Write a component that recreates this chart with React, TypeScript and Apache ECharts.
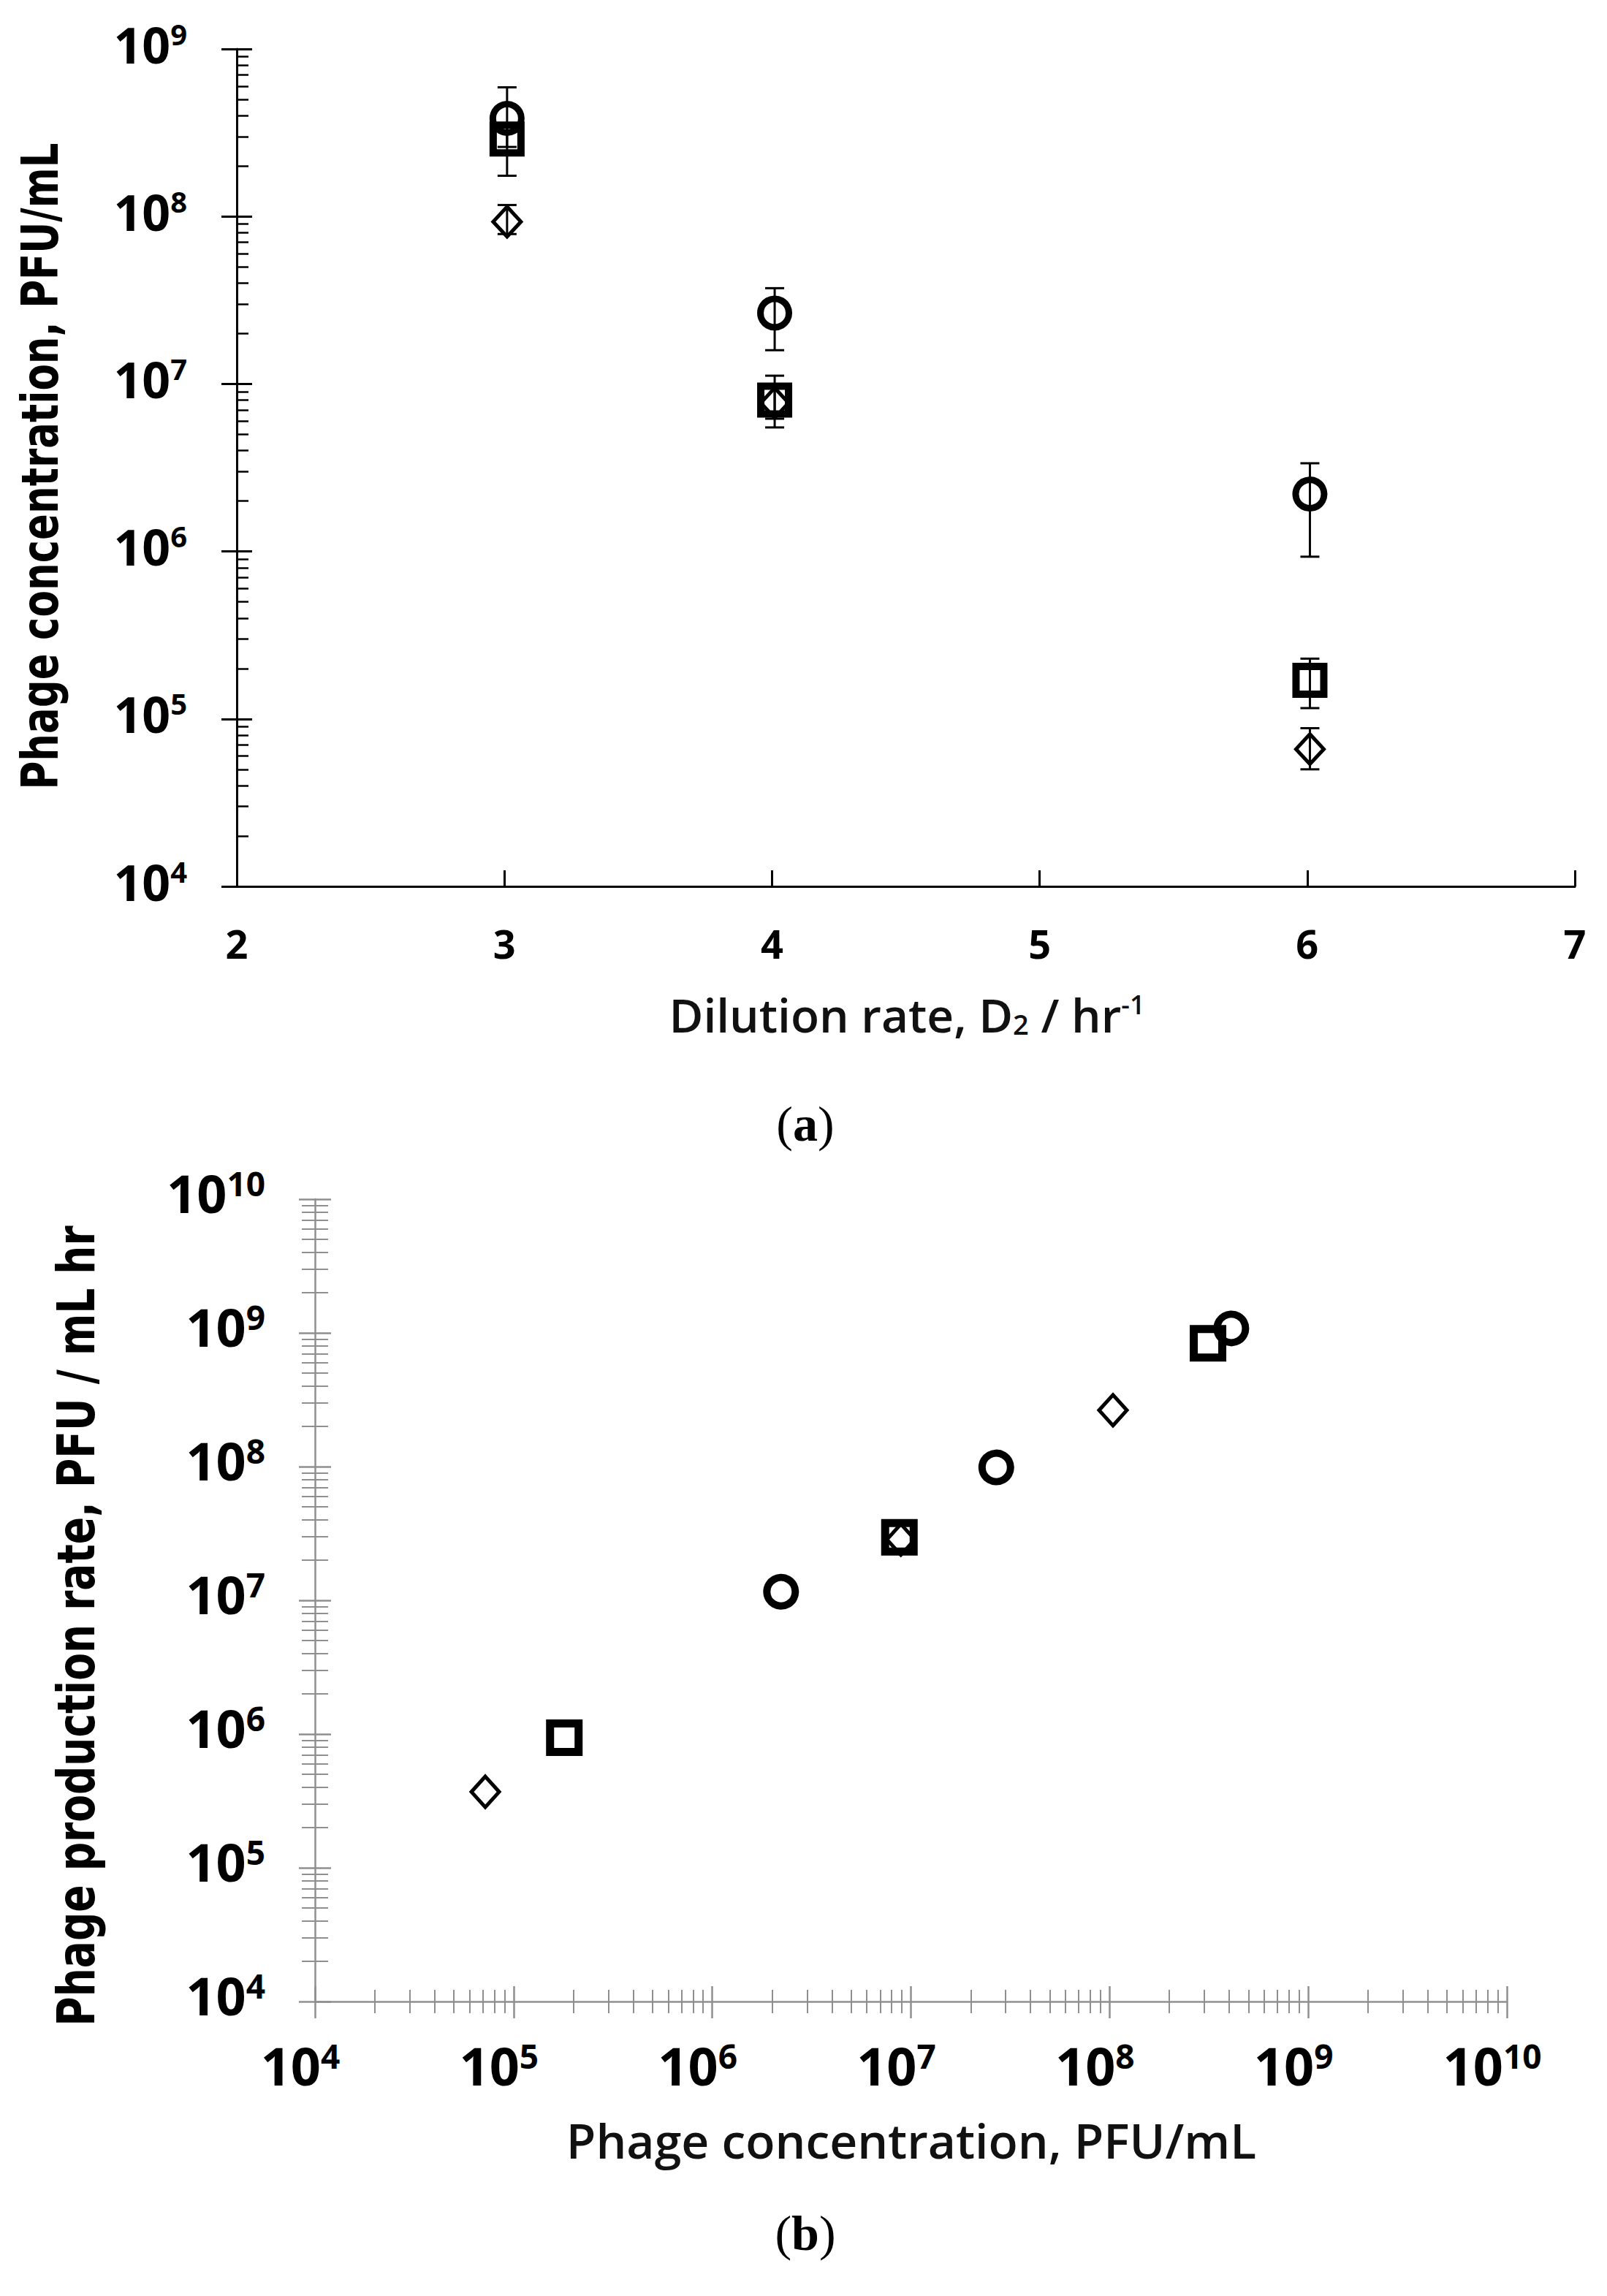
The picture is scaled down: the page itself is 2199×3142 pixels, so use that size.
import React, { useEffect, useRef } from "react";
import * as echarts from "echarts";

// ---------- Data: panel (a) ----------
const dilutionRates = [3.01, 4.01, 6.01];
const circleA = [3.85e8, 2.65e7, 2.2e6];
const circleALow = [2.6e8, 1.59e7, 9.3e5];
const circleAHigh = [5.9e8, 3.73e7, 3.36e6];
const squareA = [2.9e8, 8.0e6, 1.7e5];
const squareALow = [1.75e8, 5.5e6, 1.16e5];
const squareAHigh = [3.6e8, 1.12e7, 2.29e5];
const diamondA = [9.3e7, 7.7e6, 6.6e4];
const diamondALow = [7.85e7, 6.2e6, 5.0e4];
const diamondAHigh = [1.17e8, 9.6e6, 8.8e4];

// ---------- Data: panel (b) ----------
const circleBX = [2.22e6, 2.69e7, 4.1e8];
const circleBY = [1.16e7, 9.86e7, 1.08e9];
const squareBX = [1.8e5, 8.75e6, 3.13e8];
const squareBY = [9.4e5, 2.96e7, 8.36e8];
const diamondBX = [7.2e4, 8.9e6, 1.04e8];
const diamondBY = [3.7e5, 2.85e7, 2.64e8];

// ---------- Axis ranges / labels ----------
const xTickA = { min: 2, max: 7, interval: 1 };
const expRangeAY = [4, 9];
const expRangeB = [4, 10];
const minorMultipliers = [2, 3, 4, 5, 6, 7, 8, 9];

const titleAY = "Phage concentration, PFU/mL";
const titleBY = "Phage production rate, PFU / mL hr";
const titleBX = "Phage concentration, PFU/mL";

function minorValues(e0: number, e1: number) {
  const out: number[] = [];
  for (let e = e0; e < e1; e++) {
    for (const k of minorMultipliers) out.push(k * Math.pow(10, e));
  }
  return out;
}

const LABEL_FONT = "'Open Sans', 'DejaVu Sans', sans-serif";
const BLACK = "#000";
const GRAY = "#8f8f8f";

function powLabel(v: number) {
  const e = Math.round(Math.log10(v));
  return `{b|10}{s|${e}}`;
}

function errorBars(xs: number[], lows: number[], highs: number[], xi: number, yi: number) {
  return {
    type: "custom",
    xAxisIndex: xi,
    yAxisIndex: yi,
    silent: true,
    z: 1,
    data: xs.map((x, i) => [x, lows[i], highs[i]]),
    renderItem: (params: any, api: any) => {
      const x = api.value(0);
      const lo = api.coord([x, api.value(1)]);
      const hi = api.coord([x, api.value(2)]);
      const hw = 13;
      const style = { stroke: BLACK, lineWidth: 3, fill: null };
      return {
        type: "group",
        children: [
          { type: "line", shape: { x1: lo[0], y1: lo[1], x2: hi[0], y2: hi[1] }, style },
          { type: "line", shape: { x1: lo[0] - hw, y1: lo[1], x2: lo[0] + hw, y2: lo[1] }, style },
          { type: "line", shape: { x1: hi[0] - hw, y1: hi[1], x2: hi[0] + hw, y2: hi[1] }, style },
        ],
      };
    },
  };
}

function scatter(data: number[][], symbol: string, size: any, bw: number, xi: number, yi: number, z: number) {
  return {
    type: "scatter",
    xAxisIndex: xi,
    yAxisIndex: yi,
    symbol,
    symbolSize: size,
    z,
    silent: true,
    itemStyle: { color: "rgba(0,0,0,0)", borderColor: BLACK, borderWidth: bw, opacity: 1 },
    data,
  };
}

export default function App() {
  const ref = useRef<HTMLDivElement>(null);

  useEffect(() => {
    if (!ref.current) return;
    const chart = echarts.init(ref.current, undefined, { renderer: "svg" });

    const hidden = { show: false };
    const richA = {
      b: { fontSize: 68, fontWeight: "bold", fontFamily: LABEL_FONT, color: BLACK, lineHeight: 68 },
      s: { fontSize: 40, fontWeight: "bold", fontFamily: LABEL_FONT, color: BLACK, lineHeight: 38, verticalAlign: "top" },
    };
    const richB = {
      b: { fontSize: 72, fontWeight: "bold", fontFamily: LABEL_FONT, color: BLACK, lineHeight: 72 },
      s: { fontSize: 46, fontWeight: "bold", fontFamily: LABEL_FONT, color: BLACK, lineHeight: 42, verticalAlign: "top" },
    };

    const logA = { type: "log", logBase: 10, min: Math.pow(10, expRangeAY[0]), max: Math.pow(10, expRangeAY[1]) };
    const logB = { type: "log", logBase: 10, min: Math.pow(10, expRangeB[0]), max: Math.pow(10, expRangeB[1]) };
    const minorsA = minorValues(expRangeAY[0], expRangeAY[1]);
    const minorsB = minorValues(expRangeB[0], expRangeB[1]);

    const option: any = {
      animation: false,
      backgroundColor: "#fff",
      grid: [
        { left: 324, top: 67, width: 1831, height: 1146, containLabel: false, outerBoundsMode: "none" },
        { left: 431, top: 1641, width: 1631, height: 1098, containLabel: false, outerBoundsMode: "none" },
      ],
      xAxis: [
        {
          gridIndex: 0, type: "value", position: "bottom", ...xTickA,
          axisLine: { show: true, onZero: false, lineStyle: { color: BLACK, width: 3 } },
          axisTick: { show: true, inside: true, length: 22, lineStyle: { color: BLACK, width: 3 } },
          axisLabel: { show: true, margin: 51, fontSize: 54, fontWeight: "bold", fontFamily: LABEL_FONT, color: BLACK, lineHeight: 54 },
          splitLine: hidden,
        },
        {
          gridIndex: 1, position: "bottom", ...logB,
          axisLine: { show: true, onZero: false, lineStyle: { color: GRAY, width: 2.5 } },
          axisTick: { show: true, inside: false, length: 23, lineStyle: { color: GRAY, width: 2.5 } },
          axisLabel: { show: true, margin: 51, formatter: powLabel, rich: richB, padding: [0, 40, 0, 0] },
          splitLine: hidden,
        },
        {
          gridIndex: 1, position: "bottom", ...logB,
          axisLine: { show: false, onZero: false },
          axisTick: { show: true, inside: true, length: 21, lineStyle: { color: GRAY, width: 2.5 } },
          axisLabel: hidden, splitLine: hidden,
        },
        {
          gridIndex: 1, position: "bottom", ...logB,
          axisLine: { show: false, onZero: false },
          axisTick: { show: true, inside: true, length: 16, customValues: minorsB, lineStyle: { color: GRAY, width: 2 } },
          axisLabel: hidden, splitLine: hidden,
        },
        {
          gridIndex: 1, position: "bottom", ...logB,
          axisLine: { show: false, onZero: false },
          axisTick: { show: true, inside: false, length: 16, customValues: minorsB, lineStyle: { color: GRAY, width: 2 } },
          axisLabel: hidden, splitLine: hidden,
        },
      ],
      yAxis: [
        {
          gridIndex: 0, position: "left", ...logA,
          axisLine: { show: true, onZero: false, lineStyle: { color: BLACK, width: 3 } },
          axisTick: { show: true, inside: false, length: 21, lineStyle: { color: BLACK, width: 3 } },
          axisLabel: { show: true, margin: 68, formatter: powLabel, rich: richA, padding: [0, 0, 14, 0] },
          splitLine: hidden,
        },
        {
          gridIndex: 0, position: "left", ...logA,
          axisLine: { show: false, onZero: false },
          axisTick: { show: true, inside: true, length: 21, lineStyle: { color: BLACK, width: 3 } },
          axisLabel: hidden, splitLine: hidden,
        },
        {
          gridIndex: 0, position: "left", ...logA,
          axisLine: { show: false, onZero: false },
          axisTick: { show: true, inside: true, length: 16, customValues: minorsA, lineStyle: { color: BLACK, width: 2.5 } },
          axisLabel: hidden, splitLine: hidden,
        },
        {
          gridIndex: 1, position: "left", ...logB,
          axisLine: { show: true, onZero: false, lineStyle: { color: GRAY, width: 2.5 } },
          axisTick: { show: true, inside: false, length: 22, lineStyle: { color: GRAY, width: 2.5 } },
          axisLabel: { show: true, margin: 68, formatter: powLabel, rich: richB, padding: [0, 0, 18, 0] },
          splitLine: hidden,
        },
        {
          gridIndex: 1, position: "left", ...logB,
          axisLine: { show: false, onZero: false },
          axisTick: { show: true, inside: true, length: 22, lineStyle: { color: GRAY, width: 2.5 } },
          axisLabel: hidden, splitLine: hidden,
        },
        {
          gridIndex: 1, position: "left", ...logB,
          axisLine: { show: false, onZero: false },
          axisTick: { show: true, inside: true, length: 18, customValues: minorsB, lineStyle: { color: GRAY, width: 2 } },
          axisLabel: hidden, splitLine: hidden,
        },
        {
          gridIndex: 1, position: "left", ...logB,
          axisLine: { show: false, onZero: false },
          axisTick: { show: true, inside: false, length: 18, customValues: minorsB, lineStyle: { color: GRAY, width: 2 } },
          axisLabel: hidden, splitLine: hidden,
        },
      ],
      series: [
        errorBars(dilutionRates, circleALow, circleAHigh, 0, 0),
        errorBars(dilutionRates, squareALow, squareAHigh, 0, 0),
        errorBars(dilutionRates, diamondALow, diamondAHigh, 0, 0),
        scatter(dilutionRates.map((x, i) => [x, circleA[i]]), "circle", 39, 9, 0, 0, 3),
        scatter(dilutionRates.map((x, i) => [x, squareA[i]]), "rect", 38, 10, 0, 0, 4),
        scatter(dilutionRates.map((x, i) => [x, diamondA[i]]), "diamond", [38, 41], 5, 0, 0, 5),
        scatter(circleBX.map((x, i) => [x, circleBY[i]]), "circle", 39, 10, 1, 3, 3),
        scatter(squareBX.map((x, i) => [x, squareBY[i]]), "rect", 39, 11, 1, 3, 4),
        scatter(diamondBX.map((x, i) => [x, diamondBY[i]]), "diamond", [38, 42], 5, 1, 3, 5),
      ],
      graphic: [
        {
          type: "text", x: 55, y: 638, rotation: Math.PI / 2, scaleY: 1.3,
          style: { text: titleAY, fontFamily: "'DejaVu Sans', sans-serif", fontWeight: "bold", fontSize: 53, fill: BLACK, align: "center", verticalAlign: "middle" },
        },
        {
          type: "text", x: 1241, y: 1388,
          style: {
            text: "{n|Dilution rate, D}{sub|2}{n| / hr}{sup|-1}",
            align: "center", verticalAlign: "middle",
            rich: {
              n: { fontSize: 64, fontWeight: 600, fontFamily: LABEL_FONT, fill: "#111", lineHeight: 64 },
              sub: { fontSize: 38, fontWeight: 600, fontFamily: LABEL_FONT, fill: "#111", lineHeight: 20, verticalAlign: "bottom" },
              sup: { fontSize: 36, fontWeight: 600, fontFamily: LABEL_FONT, fill: "#111", lineHeight: 44, verticalAlign: "top" },
            },
          },
        },
        {
          type: "text", x: 1102, y: 1538,
          style: {
            text: "{p|(}{l|a}{p|)}", align: "center", verticalAlign: "middle",
            rich: {
              p: { fontSize: 68, fontFamily: "'Liberation Serif', serif", fill: BLACK },
              l: { fontSize: 68, fontWeight: "bold", fontFamily: "'Liberation Serif', serif", fill: BLACK },
            },
          },
        },
        {
          type: "text", x: 104, y: 2225, rotation: Math.PI / 2, scaleY: 1.3,
          style: { text: titleBY, fontFamily: "'DejaVu Sans', sans-serif", fontWeight: "bold", fontSize: 55, fill: BLACK, align: "center", verticalAlign: "middle" },
        },
        {
          type: "text", x: 1247, y: 2928,
          style: { text: titleBX, fontFamily: LABEL_FONT, fontWeight: 600, fontSize: 66, fill: "#111", align: "center", verticalAlign: "middle" },
        },
        {
          type: "text", x: 1102, y: 3056,
          style: {
            text: "{p|(}{l|b}{p|)}", align: "center", verticalAlign: "middle",
            rich: {
              p: { fontSize: 68, fontFamily: "'Liberation Serif', serif", fill: BLACK },
              l: { fontSize: 68, fontWeight: "bold", fontFamily: "'Liberation Serif', serif", fill: BLACK },
            },
          },
        },
      ],
    };

    chart.setOption(option);
    return () => chart.dispose();
  }, []);

  return <div ref={ref} style={{ position: "absolute", left: 0, top: 0, width: 2199, height: 3142, background: "#fff" }} />;
}
